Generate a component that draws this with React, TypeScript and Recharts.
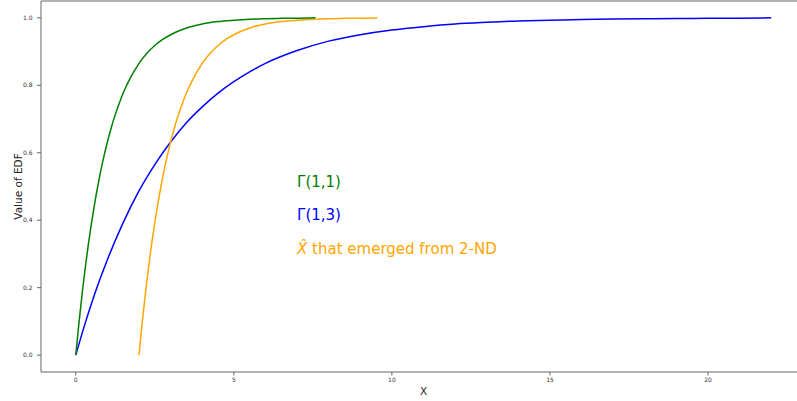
import { LineChart, Line, XAxis, YAxis, ReferenceLine, ReferenceDot } from "recharts"

// EDF of Γ(1,1) samples (green)
const gamma11X = [0, 0.1, 0.2, 0.3, 0.4, 0.5, 0.6, 0.7, 0.8, 0.9, 1.0, 1.1, 1.2, 1.3, 1.4, 1.5, 1.6, 1.7, 1.8, 1.9, 2.0, 2.25, 2.5, 2.75, 3.0, 3.5, 4.0, 4.5, 5.0, 5.5, 6.0, 6.5, 7.0, 7.58]
const gamma11Y = [0, 0.095, 0.181, 0.259, 0.33, 0.393, 0.451, 0.503, 0.551, 0.593, 0.632, 0.667, 0.699, 0.727, 0.753, 0.777, 0.798, 0.817, 0.835, 0.85, 0.865, 0.895, 0.918, 0.936, 0.95, 0.97, 0.982, 0.989, 0.993, 0.996, 0.9975, 0.9985, 0.999, 1.0]

// EDF of Γ(1,3) samples (blue)
const gamma13X = [0, 0.25, 0.5, 0.75, 1, 1.5, 2, 2.5, 3, 3.5, 4, 4.5, 5, 5.5, 6, 7, 8, 9, 10, 11, 12, 13, 14, 15, 16, 17, 18, 19, 20, 21, 22]
const gamma13Y = [0, 0.08, 0.154, 0.221, 0.283, 0.393, 0.487, 0.565, 0.632, 0.689, 0.736, 0.777, 0.811, 0.84, 0.865, 0.903, 0.931, 0.95, 0.964, 0.974, 0.982, 0.987, 0.991, 0.993, 0.995, 0.9965, 0.9975, 0.998, 0.9987, 0.999, 1.0]

// EDF of X-hat from 2-ND (orange)
const xHatX = [2.0, 2.1, 2.2, 2.3, 2.4, 2.5, 2.6, 2.7, 2.8, 2.9, 3.0, 3.1, 3.2, 3.3, 3.4, 3.5, 3.6, 3.7, 3.8, 3.9, 4.0, 4.25, 4.5, 4.75, 5.0, 5.5, 6.0, 6.5, 7.0, 7.5, 8.0, 8.5, 9.0, 9.54]
const xHatY = [0, 0.095, 0.181, 0.259, 0.33, 0.393, 0.451, 0.503, 0.551, 0.593, 0.632, 0.667, 0.699, 0.727, 0.753, 0.777, 0.798, 0.817, 0.835, 0.85, 0.865, 0.895, 0.918, 0.936, 0.95, 0.97, 0.982, 0.989, 0.993, 0.996, 0.9975, 0.9985, 0.999, 1.0]

const xTicks = [0, 5, 10, 15, 20]
const yTicks = [0, 0.2, 0.4, 0.6, 0.8, 1.0]

// annotation anchors (data coords)
const noteX = [7, 7, 7]
const noteY = [0.5, 0.4, 0.3]

const GREEN = "#008000"
const BLUE = "#0000ff"
const ORANGE = "#ffa500"
const SPINE = "#666"
const FONT = "DejaVu Sans, sans-serif"

const toPoints = (xs: number[], ys: number[]) => xs.map((x, i) => ({ x, y: ys[i] }))

const noteLabel = (kind: number) => (props: any) => {
  const vb = props.viewBox || { x: 0, y: 0 }
  if (kind === 0)
    return (
      <text x={vb.x} y={vb.y} fill={GREEN} fontSize={15} fontFamily={FONT}>
        Γ(1,1)
      </text>
    )
  if (kind === 1)
    return (
      <text x={vb.x} y={vb.y} fill={BLUE} fontSize={15} fontFamily={FONT}>
        Γ(1,3)
      </text>
    )
  return (
    <text x={vb.x} y={vb.y} fill={ORANGE} fontSize={15} fontFamily={FONT}>
      <tspan fontStyle="italic">{"X\u0302"}</tspan>
      <tspan> that emerged from 2-ND</tspan>
    </text>
  )
}

export default function App() {
  return (
    <div
      style={{
        position: "fixed",
        left: 0,
        top: 0,
        width: 797,
        height: 401,
        overflow: "hidden",
        background: "#fff",
        fontFamily: FONT,
      }}
    >
      <LineChart width={806} height={401} margin={{ top: 1, right: 0, bottom: 0, left: 0 }}>
        <XAxis
          dataKey="x"
          type="number"
          domain={[-1.1, 23.1]}
          ticks={xTicks}
          allowDataOverflow
          height={29}
          stroke={SPINE}
          tickSize={3.5}
          tickMargin={2}
          tick={{ fill: "#333", fontSize: 6 }}
          label={{ value: "X", position: "insideBottom", offset: 6, fill: "#222", fontSize: 10.5 }}
        />
        <YAxis
          dataKey="y"
          type="number"
          domain={[-0.05, 1.05]}
          ticks={yTicks}
          allowDataOverflow
          width={41}
          stroke={SPINE}
          tickSize={4}
          tickMargin={4.5}
          tick={{ fill: "#333", fontSize: 6 }}
          tickFormatter={(v: number) => v.toFixed(1)}
          label={(props: any) => {
            const vb = props.viewBox || { y: 0, height: 401 }
            const cy = vb.y + vb.height / 2
            return (
              <text
                x={22}
                y={cy}
                transform={`rotate(-90, 22, ${cy})`}
                textAnchor="middle"
                fill="#222"
                fontSize={10.5}
                fontFamily={FONT}
              >
                Value of EDF
              </text>
            )
          }}
        />
        <ReferenceLine y={1.05} stroke={SPINE} strokeWidth={1} ifOverflow="visible" />
        <Line
          data={toPoints(gamma13X, gamma13Y)}
          dataKey="y"
          type="monotone"
          stroke={BLUE}
          strokeWidth={1.5}
          dot={false}
          isAnimationActive={false}
        />
        <Line
          data={toPoints(xHatX, xHatY)}
          dataKey="y"
          type="monotone"
          stroke={ORANGE}
          strokeWidth={1.5}
          dot={false}
          isAnimationActive={false}
        />
        <Line
          data={toPoints(gamma11X, gamma11Y)}
          dataKey="y"
          type="monotone"
          stroke={GREEN}
          strokeWidth={1.5}
          dot={false}
          isAnimationActive={false}
        />
        {noteX.map((nx, i) => (
          <ReferenceDot
            key={i}
            x={nx}
            y={noteY[i]}
            r={0}
            fill="none"
            stroke="none"
            ifOverflow="visible"
            label={noteLabel(i)}
          />
        ))}
      </LineChart>
    </div>
  )
}
